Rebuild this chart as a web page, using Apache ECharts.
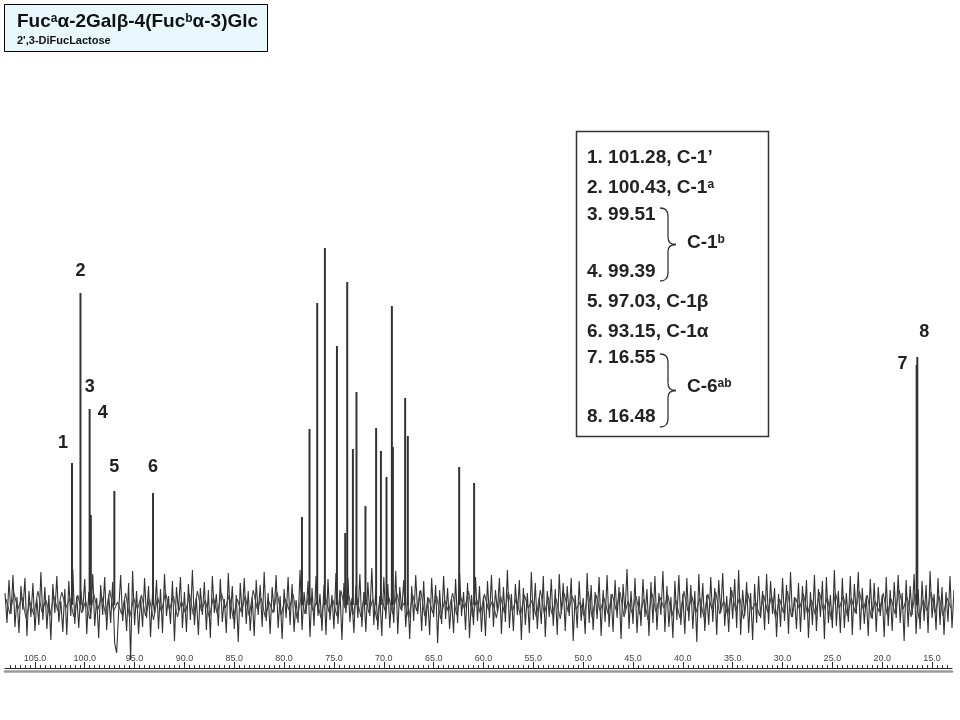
<!DOCTYPE html>
<html><head><meta charset="utf-8">
<script src="https://cdn.jsdelivr.net/npm/echarts@6/dist/echarts.min.js"></script>
<style>html,body{margin:0;padding:0;background:#fff}#c{width:960px;height:720px}</style>
</head><body><div id="c"></div>
<script>
// ---- data ----
const peakShifts  = [101.28,100.43,99.51,99.39,97.03,93.15, 78.21,77.45,76.68,75.91,74.70,73.87,73.67,73.10,72.74,71.84,70.77,70.29,69.73,69.19,69.09,67.86,67.59,62.44,60.94, 16.55,16.48];
const peakHeights = [142,312,196,90,114,112, 88,176,302,357,259,72,323,156,213,99,177,154,128,299,158,207,169,138,122, 240,248];
const peakNumbers = ['1','2','3','4','5','6', '','','','','','','','','','','','','','','','','','','', '7','8'];
const axisTickLabels = [105,100,95,90,85,80,75,70,65,60,55,50,45,40,35,30,25,20,15];
const noiseStart = 108, noiseStep = 0.2;
const noiseValues = [
12,-18,25,-9,30,-22,8,-28,19,-5,27,-31,14,-12,22,-26,6,-20,33,-15,
18,-24,10,-35,21,-8,29,-17,4,-27,16,-30,24,-11,36,-19,9,-23,15,-6,
26,-29,13,-14,31,-21,7,-33,20,-10,28,-25,11,-18,23,-38,-48,-7,30,-16,
5,-26,22,-55,34,-20,14,-29,8,-22,27,-13,19,-32,12,-9,25,-24,16,-28,
31,-11,9,-19,24,-36,18,-6,28,-23,13,-27,21,-15,35,-20,7,-30,17,-10,
23,-25,15,-33,29,-8,11,-21,26,-17,6,-28,32,-14,19,-24,10,-37,22,-12,
27,-19,14,-26,8,-31,25,-10,20,-22,33,-16,12,-29,18,-7,30,-23,9,-34,
16,-13,28,-20,21,-27,5,-18,35,-25,13,-9,24,-32,17,-21,29,-11,11,-26,
20,-30,26,-15,10,-24,32,-19,15,-35,22,-8,27,-17,7,-28,19,-13,31,-22,
13,-27,23,-11,37,-20,16,-25,9,-31,28,-14,21,-23,12,-18,34,-29,18,-6,
25,-22,11,-34,19,-16,30,-9,14,-26,24,-21,8,-30,27,-12,20,-38,15,-19,
29,-14,17,-24,6,-28,26,-18,32,-11,13,-25,22,-33,10,-20,28,-16,19,-27,
9,-31,24,-13,30,-22,15,-7,27,-29,18,-17,35,-23,11,-26,21,-10,25,-35,
17,-20,12,-28,33,-15,22,-24,8,-19,29,-32,14,-12,26,-21,16,-30,31,-9,
22,-26,19,-11,27,-36,10,-23,24,-16,7,-29,32,-18,20,-25,13,-14,28,-31,
15,-17,30,-22,11,-27,25,-13,18,-34,21,-8,36,-24,14,-19,27,-28,9,-21,
26,-12,16,-31,23,-18,29,-25,12,-10,34,-27,19,-22,8,-33,24,-15,30,-20,
11,-29,27,-16,20,-24,14,-37,31,-13,22,-26,10,-20,28,-17,17,-30,25,-8,
32,-21,9,-27,18,-14,26,-23,35,-30,15,-11,23,-28,12,-35,21,-18,29,-13,
14,-25,31,-19,24,-9,17,-32,11,-22,27,-16,20,-29,33,-12,8,-24,22,-27,
19,-15,25,-33,13,-20,30,-26,16,-12,24,-34,28,-18,10,-23,35,-21,14,-28,
27,-23,12,-17,29,-30,21,-9,33,-25,17,-19,9,-31,26,-14,22,-27,18,-11,
10,-32,28,-21,15,-26,23,-13,30,-18,12,-36,25,-22,19,-10,31,-29,16,-24,
24,-16,20,-28,34,-13,11,-25,27,-20,18,-30,13,-17,29,-23,15
];
const coreStart = 107.9, coreStep = 0.4;
const coreNoise = [
6,-9,12,-4,8,-13,3,-10,14,-7,5,-11,9,-6,13,-3,7,-12,10,-8,
4,-14,11,-5,9,-10,15,-6,3,-9,12,-13,7,-4,10,-11,6,-15,8,-7,
13,-5,9,-12,4,-8,11,-10,14,-6,5,-13,8,-9,12,-3,10,-14,6,-7,
9,-11,15,-4,7,-12,3,-8,13,-10,6,-5,11,-14,8,-9,12,-6,4,-13,
10,-7,5,-11,14,-3,9,-10,7,-12,13,-8,6,-15,11,-5,8,-9,12,-4,
3,-13,10,-6,15,-11,7,-8,9,-14,5,-7,12,-10,8,-4,14,-12,6,-9,
11,-5,4,-13,9,-8,13,-6,7,-11,10,-3,5,-12,15,-9,8,-10,6,-14,
12,-7,9,-4,3,-11,14,-13,10,-6,7,-9,11,-5,13,-12,4,-8,9,-10,
6,-15,12,-7,8,-3,10,-11,5,-13,14,-6,9,-8,7,-12,11,-4,13,-9,
4,-10,15,-6,8,-14,12,-5,3,-11,10,-7,9,-13,6,-8,14,-12,7,-4,
11,-9,5,-10,13,-6,8,-15,12,-3,9,-11,7,-8,14,-5,10,-13,4,-7,
12,-10,6,-9,15,-4,8,-12,11,-14,5,-6,13,-8,9,-11,7,-3
];
const titleMain = 'Fuc{s|a}α-2Galβ-4(Fuc{s|b}α-3)Glc';
const titleSub = '2\',3-DiFucLactose';
const legendLines = ['1. 101.28, C-1’','2. 100.43, C-1{s|a}','3. 99.51','4. 99.39','5. 97.03, C-1β','6. 93.15, C-1α','7. 16.55','8. 16.48'];
const braceLabels = ['C-1{s|b}','C-6{s|ab}'];

// ---- styling / layout ----
const labelOffsets = {'1':[-9,-6],'2':[0,-8],'3':[0,-8],'4':[12,-88],'5':[0,-10],'6':[0,-12],'7':[-14,13],'8':[7,-11]};
const FF = 'Liberation Sans, Arial, sans-serif';
const legendY = [158,188,215,272,302,332,358,417];
const braceY = [243,387];

const chart = echarts.init(document.getElementById('c'), null, {renderer:'canvas'});

const peakData = peakShifts.map((p,i)=>{
  const n = peakNumbers[i];
  const item = {value:[p, peakHeights[i]]};
  if (n) item.label = {show:true, formatter:n, position:'top', offset:labelOffsets[n]};
  return item;
});
const noiseData = noiseValues.map((v,i)=>[noiseStart - i*noiseStep, v]);
const coreData = coreNoise.map((v,i)=>[coreStart - i*coreStep, v]);
const halfTicks = [];
for (let t = 13.5; t <= 107.6; t += 0.5) halfTicks.push(+t.toFixed(1));

function brace(x0, y0, y1, w){
  const ym = (y0+y1)/2, xm = x0 + w/2;
  const st = {stroke:'#333', lineWidth:1.3, fill:null};
  return [
    {type:'bezierCurve', z:11, shape:{x1:x0,y1:y0,cpx1:xm,cpy1:y0,x2:xm,y2:y0+8}, style:st},
    {type:'line', z:11, shape:{x1:xm,y1:y0+8,x2:xm,y2:ym-7}, style:st},
    {type:'bezierCurve', z:11, shape:{x1:xm,y1:ym-7,cpx1:xm,cpy1:ym,x2:x0+w,y2:ym}, style:st},
    {type:'bezierCurve', z:11, shape:{x1:x0+w,y1:ym,cpx1:xm,cpy1:ym,x2:xm,y2:ym+7}, style:st},
    {type:'line', z:11, shape:{x1:xm,y1:ym+7,x2:xm,y2:y1-8}, style:st},
    {type:'bezierCurve', z:11, shape:{x1:xm,y1:y1-8,cpx1:xm,cpy1:y1,x2:x0,y2:y1}, style:st}
  ];
}

const graphics = [
  {type:'rect', shape:{x:4.5,y:4.5,width:263,height:47}, style:{fill:'#e8f8fd', stroke:'#000', lineWidth:1}, z:10},
  {type:'text', x:17, y:22, z:11, style:{text:titleMain, fontSize:19, fontWeight:'bold', fontFamily:FF, fill:'#111', verticalAlign:'middle', rich:{s:{fontSize:12, fontWeight:'bold', fontFamily:FF, fill:'#111', verticalAlign:'top'}}}},
  {type:'text', x:17, y:41, z:11, style:{text:titleSub, fontSize:11, fontWeight:'bold', fontFamily:FF, fill:'#111', verticalAlign:'middle'}},
  {type:'rect', shape:{x:576.5,y:131.5,width:192,height:305}, style:{fill:'#fff', stroke:'#333', lineWidth:1.5}, z:10}
].concat(brace(660,208,281,16), brace(660,354,427,16));
legendLines.forEach((t,i)=>{
  graphics.push({type:'text', x:587, y:legendY[i], z:11, style:{text:t, fontSize:19, fontWeight:'bold', fontFamily:FF, fill:'#222', verticalAlign:'middle', rich:{s:{fontSize:12, fontWeight:'bold', fontFamily:FF, fill:'#222', verticalAlign:'top'}}}});
});
braceLabels.forEach((t,i)=>{
  graphics.push({type:'text', x:687, y:braceY[i], z:11, style:{text:t, fontSize:19, fontWeight:'bold', fontFamily:FF, fill:'#222', verticalAlign:'middle', rich:{s:{fontSize:12, fontWeight:'bold', fontFamily:FF, fill:'#222', verticalAlign:'top'}}}});
});

const baseX = {type:'value', min:13, max:108, inverse:true, position:'bottom', splitLine:{show:false}};
chart.setOption({
  animation:false,
  backgroundColor:'#fff',
  grid:{left:5, right:8, top:105, bottom:52, containLabel:false, outerBoundsMode:'none'},
  xAxis:[
    Object.assign({}, baseX, {
      axisLine:{show:true, onZero:false, lineStyle:{color:'#222', width:1.2}},
      axisTick:{show:true, inside:true, length:6, customValues:axisTickLabels, lineStyle:{color:'#222'}},
      axisLabel:{show:true, inside:true, margin:5, customValues:axisTickLabels, formatter:v=>v.toFixed(1), fontSize:9, color:'#444', fontFamily:FF}
    }),
    Object.assign({}, baseX, {
      axisLine:{show:false, onZero:false},
      axisTick:{show:true, inside:true, length:3, customValues:halfTicks, lineStyle:{color:'#333'}},
      axisLabel:{show:false}
    }),
    Object.assign({}, baseX, {
      offset:3,
      axisLine:{show:true, onZero:false, lineStyle:{color:'#9a9a9a', width:2.5}},
      axisTick:{show:false}, axisLabel:{show:false}
    })
  ],
  yAxis:{type:'value', min:-63, max:500, show:false, splitLine:{show:false}},
  series:[
    {type:'line', xAxisIndex:0, data:noiseData, showSymbol:false, symbol:'none', silent:true,
     lineStyle:{color:'#333', width:1.1}, z:2},
    {type:'line', xAxisIndex:0, data:coreData, showSymbol:false, symbol:'none', silent:true,
     lineStyle:{color:'#444', width:1.1}, z:2},
    {type:'bar', xAxisIndex:0, data:peakData, barWidth:2, silent:true,
     itemStyle:{color:'#333'}, z:3,
     label:{show:false, fontSize:18, fontWeight:'bold', fontFamily:FF, color:'#222', distance:5}}
  ],
  graphic:graphics
});
</script></body></html>
